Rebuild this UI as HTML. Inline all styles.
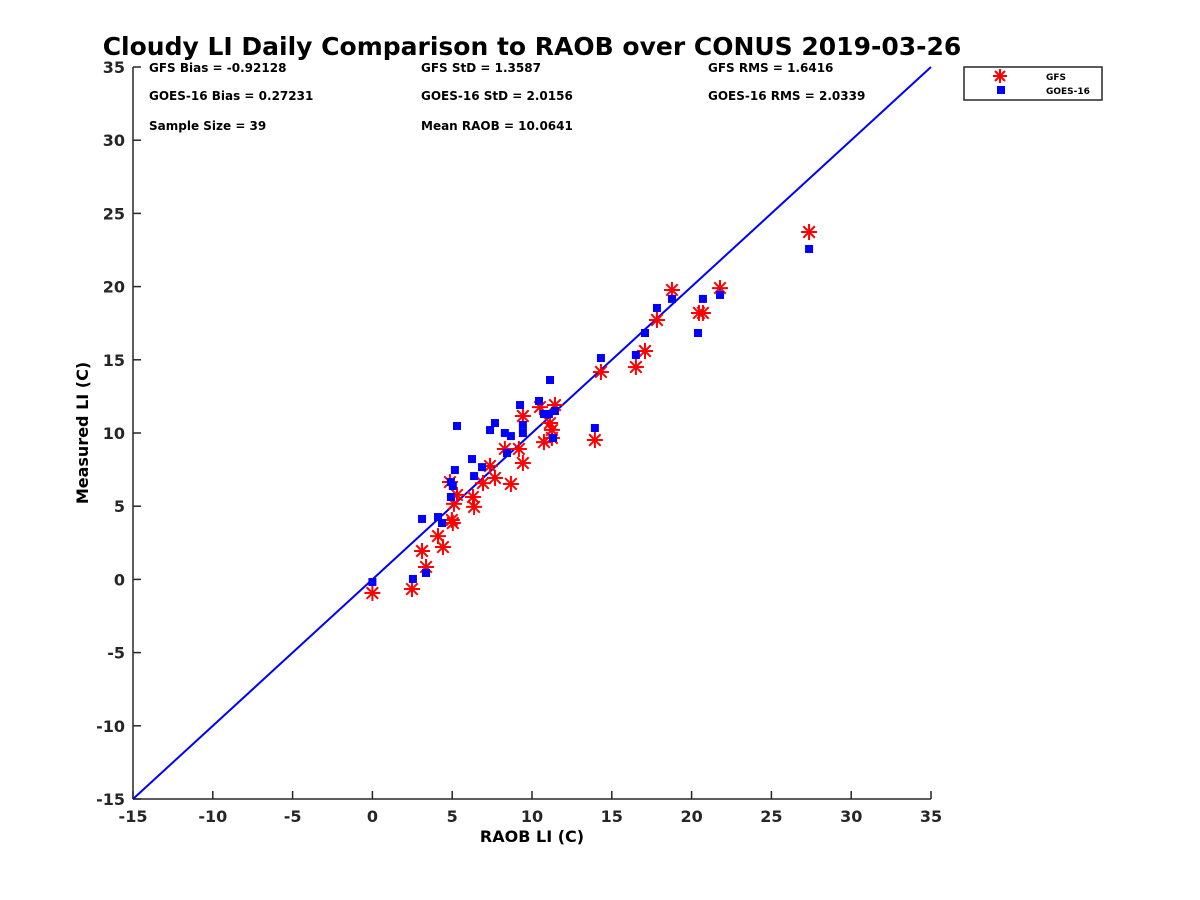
<!DOCTYPE html>
<html><head><meta charset="utf-8"><style>
body{margin:0;background:#fff}
svg{display:block;font-family:"DejaVu Sans","Liberation Sans",sans-serif;font-weight:bold}
</style></head><body>
<svg id="chart" width="1200" height="900">
<text x="532" y="55" font-size="25" text-anchor="middle" fill="#000">Cloudy LI Daily Comparison to RAOB over CONUS 2019-03-26</text>
<g font-size="12" fill="#000">
<text x="149" y="72">GFS Bias = -0.92128</text>
<text x="149" y="100">GOES-16 Bias = 0.27231</text>
<text x="149" y="130">Sample Size = 39</text>
<text x="421" y="72">GFS StD = 1.3587</text>
<text x="421" y="100">GOES-16 StD = 2.0156</text>
<text x="421" y="130">Mean RAOB = 10.0641</text>
<text x="708" y="72">GFS RMS = 1.6416</text>
<text x="708" y="100">GOES-16 RMS = 2.0339</text>
</g>
<g id="axes"></g>
<g id="marks"></g>
<text x="532" y="842" font-size="16" text-anchor="middle">RAOB LI (C)</text>
<text x="0" y="0" font-size="16" text-anchor="middle" transform="translate(88,433) rotate(-90)">Measured LI (C)</text>
<g>
<rect x="964" y="67" width="138" height="33" fill="#fff" stroke="#262626" stroke-width="1.5"></rect>
<g stroke="red" stroke-width="2">
<line x1="1000" y1="69" x2="1000" y2="83"/><line x1="993" y1="76" x2="1007" y2="76"/><line x1="995" y1="71" x2="1005" y2="81"/><line x1="995" y1="81" x2="1005" y2="71"/></g>
<rect x="997" y="86" width="8" height="8" fill="blue"></rect>
<text x="1046" y="80" font-size="9">GFS</text>
<text x="1046" y="94" font-size="9">GOES-16</text>
</g>
</svg>
<script>
const xTicks=[-15,-10,-5,0,5,10,15,20,25,30,35];
const yTicks=[-15,-10,-5,0,5,10,15,20,25,30,35];
const gfsX=[0,2.48,3.36,3.11,4.11,4.42,4.98,5.04,4.86,5.30,5.11,6.30,6.37,6.93,7.37,7.68,8.68,8.30,9.18,9.43,9.43,10.75,10.50,11.13,11.25,11.44,11.25,13.94,14.32,16.51,17.08,17.83,18.77,20.46,20.71,21.78,27.36];
const gfsY=[-0.93,-0.66,0.85,1.94,2.96,2.21,4.06,3.85,6.65,5.77,5.16,5.63,4.95,6.58,7.75,6.93,6.52,8.91,8.91,7.95,11.16,9.38,11.77,10.68,10.21,11.91,9.66,9.52,14.17,14.51,15.6,17.72,19.77,18.2,18.2,19.9,23.73];
const goesX=[0,2.54,3.36,3.11,4.11,4.36,4.92,5.04,4.92,5.17,5.30,6.24,6.37,6.87,7.37,7.68,8.30,8.68,8.43,9.25,9.43,9.43,10.44,10.75,11.06,11.44,11.32,11.13,13.94,14.32,16.51,17.08,17.83,18.77,20.40,20.71,21.78,27.36];
const goesY=[-0.18,0.03,0.44,4.13,4.26,3.85,5.63,6.38,6.65,7.47,10.48,8.22,7.06,7.67,10.2,10.68,10.0,9.79,8.63,11.91,10.55,10.0,12.19,11.3,11.3,11.5,9.66,13.62,10.34,15.12,15.33,16.83,18.54,19.16,16.83,19.16,19.43,22.57];
const X0=133,X1=931,Y0=799,Y1=67,MIN=-15,MAX=35;
const sx=v=>X0+(v-MIN)/(MAX-MIN)*(X1-X0);
const sy=v=>Y0-(v-MIN)/(MAX-MIN)*(Y0-Y1);
const NS='http://www.w3.org/2000/svg';
function mk(tag,attrs,parent){const e=document.createElementNS(NS,tag);for(const k in attrs)e.setAttribute(k,attrs[k]);parent.appendChild(e);return e;}
const ax=document.getElementById('axes'),mg=document.getElementById('marks');
let l=mk('line',{x1:X0,y1:Y0,x2:X1,y2:Y0,stroke:'#262626','stroke-width':1.5},ax);


l=mk('line',{x1:X0,y1:Y0,x2:X0,y2:Y1,stroke:'#262626','stroke-width':1.5},ax);


xTicks.forEach(t=>{
 const x=sx(t);
 const tk=mk('line',{x1:x,y1:Y0,x2:x,y2:Y0-8,stroke:'#262626','stroke-width':1.5},ax);
 
 
 const tx=mk('text',{x:x,y:Y0+23,'font-size':16,'text-anchor':'middle',fill:'#262626'},ax);
 tx.textContent=t;
 
 
});
yTicks.forEach(t=>{
 const y=sy(t);
 const tk=mk('line',{x1:X0,y1:y,x2:X0+8,y2:y,stroke:'#262626','stroke-width':1.5},ax);
 
 
 const tx=mk('text',{x:X0-8,y:y+6,'font-size':16,'text-anchor':'end',fill:'#262626'},ax);
 tx.textContent=t;
 
 
});
const ref=mk('line',{x1:sx(MIN),y1:sy(MIN),x2:sx(MAX),y2:sy(MAX),stroke:'blue','stroke-width':2},mg);


gfsX.forEach((v,i)=>{
 const cx=sx(v),cy=sy(gfsY[i]),r=8;
 const g=mk('g',{stroke:'red','stroke-width':2},mg);
 
 
 mk('line',{x1:cx,y1:cy-r,x2:cx,y2:cy+r},g);
 mk('line',{x1:cx-r,y1:cy,x2:cx+r,y2:cy},g);
 const d=r*0.72;
 mk('line',{x1:cx-d,y1:cy-d,x2:cx+d,y2:cy+d},g);
 mk('line',{x1:cx-d,y1:cy+d,x2:cx+d,y2:cy-d},g);
});
goesX.forEach((v,i)=>{
 const s=mk('rect',{x:sx(v)-4,y:sy(goesY[i])-4,width:8,height:8,fill:'blue'},mg);
 
 
});
</script>
</body></html>
